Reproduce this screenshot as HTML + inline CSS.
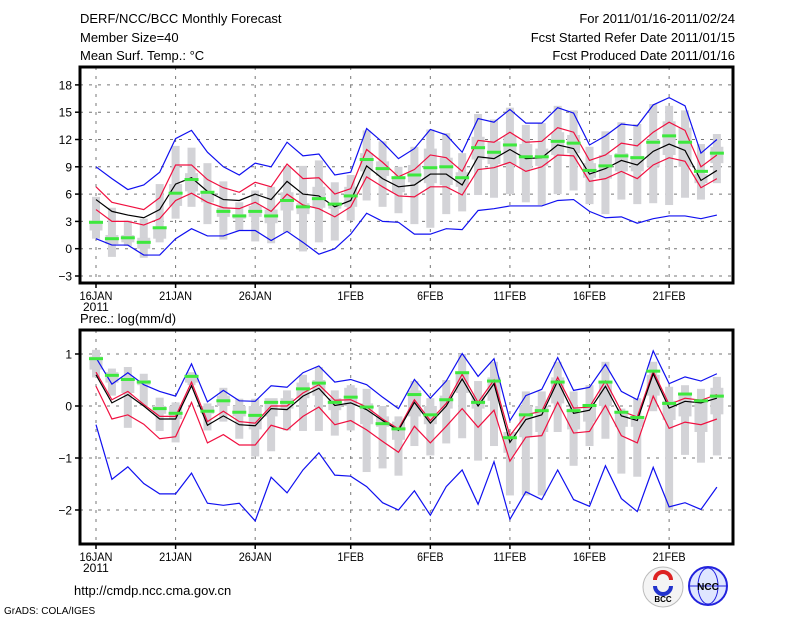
<!DOCTYPE html>
<html><head><meta charset="utf-8"><style>
html,body{margin:0;padding:0;background:#fff;}
svg{display:block;}
text{font-family:"Liberation Sans",sans-serif;fill:#000;}
</style></head><body>
<svg id="chart" width="800" height="618" viewBox="0 0 800 618" xmlns="http://www.w3.org/2000/svg">
<g font-size="13">
<text x="80" y="23">DERF/NCC/BCC Monthly Forecast</text>
<text x="80" y="42">Member Size=40</text>
<text x="80" y="60">Mean Surf. Temp.: °C</text>
<text x="735" y="23" text-anchor="end">For 2011/01/16-2011/02/24</text>
<text x="735" y="42" text-anchor="end">Fcst Started Refer Date 2011/01/15</text>
<text x="735" y="60" text-anchor="end">Fcst Produced Date 2011/01/16</text>
</g>
<text x="80" y="323" font-size="13">Prec.: log(mm/d)</text>
<text x="74" y="595" font-size="13">http://cmdp.ncc.cma.gov.cn</text>
<text x="4" y="614" font-size="10">GrADS: COLA/IGES</text>
<g>
<circle cx="663" cy="587" r="20" fill="#f4f4f4" stroke="#bbb"/>
<path d="M655 580 a8 8 0 0 1 16 0" stroke="#d22" stroke-width="4" fill="none"/>
<path d="M671 586 a8 8 0 0 1 -16 0" stroke="#23c" stroke-width="4" fill="none"/>
<text x="663" y="602" font-size="8" text-anchor="middle" font-weight="bold">BCC</text>
</g>
<g>
<circle cx="708" cy="586" r="19" fill="#dfe6ff" stroke="#22d" stroke-width="2"/>
<ellipse cx="708" cy="586" rx="10" ry="18" fill="none" stroke="#22d"/>
<line x1="690" y1="586" x2="726" y2="586" stroke="#22d"/>
<text x="708" y="590" font-size="10" text-anchor="middle" fill="#22d" font-weight="bold">NCC</text>
</g>
<g id="plots"></g>
</svg>
<script>
// ---- temperature panel data ----
const days = ["16JAN","","","","","21JAN","","","","","26JAN","","","","","","1FEB","","","","","6FEB","","","","","11FEB","","","","","16FEB","","","","","21FEB","","",""];
const tTicks = [-3,0,3,6,9,12,15,18];
const tMaxLine = [9.0,7.7,6.5,7.0,8.4,12.1,13.0,10.6,9.0,8.1,9.4,9.0,11.7,10.2,10.4,8.1,8.4,13.2,11.7,9.9,11.0,13.1,12.5,10.6,14.3,13.9,15.3,13.8,13.8,15.5,14.9,11.4,12.4,13.7,13.5,15.8,16.6,15.7,10.5,12.0];
const tUpper = [6.8,5.1,4.7,4.3,5.6,9.2,9.2,7.6,6.7,6.2,7.3,6.8,9.3,7.7,7.8,6.0,6.6,10.9,9.5,7.9,8.7,10.3,10.0,8.5,11.9,11.7,12.8,11.7,11.8,13.3,12.8,9.7,10.3,11.6,11.3,12.8,13.9,13.0,9.0,10.3];
const tMean = [5.4,4.1,3.7,3.4,4.3,7.1,7.8,6.3,5.4,5.3,6.0,5.4,7.4,6.0,5.8,4.6,5.3,9.1,7.7,6.8,7.0,8.2,8.2,7.0,10.1,9.9,10.9,9.9,10.0,11.4,11.0,8.2,8.8,9.7,9.2,10.7,11.5,10.8,7.5,8.6];
const tLower = [4.3,3.0,3.0,2.6,3.3,5.3,6.1,5.1,4.5,4.4,5.1,4.1,6.0,4.8,4.4,3.5,4.6,7.9,6.8,5.8,5.7,6.8,6.8,5.9,8.7,8.9,9.5,8.5,9.0,10.3,10.2,7.4,7.7,8.5,7.7,9.2,10.0,9.6,6.7,7.7];
const tMinLine = [1.1,0.4,0.4,-0.7,-0.7,1.1,2.2,1.4,1.4,2.0,2.0,0.9,1.9,0.7,-0.6,0.0,1.6,3.9,3.0,2.9,1.6,1.6,2.2,2.1,4.2,4.4,4.7,4.7,4.7,5.3,5.4,4.1,3.4,3.5,2.8,3.3,3.6,3.6,3.3,3.7];
const tObs = [2.9,1.1,1.2,0.7,2.3,6.1,7.6,6.2,4.1,3.6,4.1,3.6,5.3,4.6,5.5,4.9,5.8,9.8,8.8,7.8,8.1,8.9,9.0,7.8,11.1,10.6,11.4,10.1,10.1,11.8,11.6,8.6,9.1,10.2,10.0,11.7,12.4,11.7,8.5,10.5];
const tWhiskLo = [1.1,-0.9,0.3,-1.0,0.7,3.3,4.6,2.7,1.0,2.0,0.8,0.6,1.8,-0.3,0.7,0.9,3.1,5.3,4.6,3.9,2.7,2.3,3.8,4.1,5.9,5.6,6.0,5.1,4.8,6.0,6.4,4.9,3.8,5.4,4.9,5.0,4.8,5.6,5.4,7.2];
const tWhiskHi = [5.7,4.5,3.1,3.3,7.1,11.3,11.1,9.4,7.4,5.1,6.4,6.8,9.1,9.1,9.7,7.3,8.1,13.0,11.8,9.0,11.2,13.1,12.7,10.5,14.8,14.2,15.5,13.6,13.8,15.7,15.2,11.2,12.9,13.9,13.7,15.9,15.7,15.2,11.5,12.6];
const tBoxLo = [2.0,0.5,0.7,0.0,1.1,4.7,6.3,5.1,3.5,3.3,3.5,2.8,4.2,3.8,4.5,4.4,4.6,8.5,8.0,6.2,7.3,7.2,7.0,6.8,9.8,9.3,9.2,8.8,9.1,10.3,10.5,7.8,7.7,8.5,8.5,9.0,10.3,9.0,7.2,9.4];
const tBoxHi = [2.9,1.5,1.5,1.2,2.3,7.1,8.3,6.2,4.5,3.8,4.7,4.3,6.2,5.0,6.8,5.0,6.8,10.5,9.6,7.9,9.2,11.0,10.0,8.4,12.3,11.8,12.4,11.5,11.0,12.8,12.5,9.4,10.3,10.5,10.2,12.0,14.0,13.3,8.2,11.2];
// ---- precipitation panel data ----
const pTicks = [-2,-1,0,1];
const pMaxLine = [0.93,0.42,0.64,0.41,0.28,0.19,0.81,0.08,0.30,0.10,0.09,0.39,0.36,0.64,0.77,0.46,0.51,0.41,0.17,-0.05,0.51,0.15,0.48,1.01,0.57,0.91,-0.28,0.20,0.32,0.93,0.30,0.36,0.80,0.28,0.12,1.06,0.43,0.56,0.48,0.62];
const pUpper = [0.65,0.12,0.28,0.03,-0.20,-0.20,0.46,-0.30,-0.10,-0.30,-0.33,0.0,0.0,0.25,0.41,0.11,0.12,-0.02,-0.25,-0.44,0.12,-0.28,0.05,0.61,0.07,0.50,-0.57,-0.17,-0.10,0.55,-0.04,-0.02,0.48,-0.10,-0.21,0.67,0.03,0.15,0.11,0.22];
const pMean = [0.60,0.06,0.22,0.0,-0.25,-0.25,0.39,-0.37,-0.19,-0.36,-0.38,-0.05,-0.07,0.19,0.34,0.01,0.06,-0.07,-0.28,-0.47,0.07,-0.33,0.0,0.52,0.0,0.43,-0.70,-0.26,-0.17,0.48,-0.14,-0.08,0.38,-0.19,-0.28,0.62,-0.04,0.09,0.06,0.15];
const pLower = [0.38,-0.25,-0.17,-0.35,-0.63,-0.59,0.07,-0.71,-0.55,-0.75,-0.75,-0.37,-0.46,-0.20,-0.02,-0.36,-0.28,-0.46,-0.68,-0.89,-0.39,-0.71,-0.39,-0.05,-0.41,-0.08,-1.06,-0.60,-0.57,0.07,-0.52,-0.49,0.01,-0.57,-0.71,0.19,-0.43,-0.31,-0.36,-0.25];
const pMinLine = [-0.36,-1.41,-1.17,-1.49,-1.69,-1.69,-1.29,-1.87,-1.91,-1.87,-2.21,-1.37,-1.67,-1.23,-0.90,-1.33,-1.35,-1.55,-1.86,-2.0,-1.63,-2.1,-1.55,-1.23,-1.89,-1.07,-2.18,-1.65,-1.80,-1.23,-1.80,-1.93,-1.15,-1.78,-2.03,-1.18,-1.94,-1.86,-1.99,-1.56];
const pObs = [0.91,0.59,0.51,0.46,-0.05,-0.14,0.57,-0.10,0.10,-0.12,-0.18,0.07,0.07,0.33,0.44,0.07,0.17,-0.02,-0.34,-0.44,0.22,-0.17,0.12,0.64,0.07,0.48,-0.61,-0.17,-0.09,0.46,-0.09,0.01,0.46,-0.12,-0.22,0.67,0.05,0.23,0.10,0.19];
const pWhiskLo = [0.55,0.2,-0.42,0.0,-0.48,-0.7,0.4,-0.47,-0.3,-0.63,-0.97,-0.87,-0.47,-0.48,-0.48,-0.57,-0.47,-1.27,-1.2,-1.34,-0.77,-0.95,-0.72,-0.62,-1.05,-0.77,-1.72,-1.72,-1.72,-0.5,-1.15,-0.77,-0.63,-1.3,-1.36,-0.1,-2.0,-0.94,-1.09,-0.95];
const pWhiskHi = [1.08,0.72,0.75,0.62,0.16,0.07,0.65,0.05,0.35,0.14,0.14,0.1,0.3,0.6,0.75,0.3,0.4,0.33,0.0,-0.2,0.48,0.15,0.5,1.0,0.48,0.85,-0.5,0.28,0.28,0.85,0.28,0.4,0.85,-0.05,0.15,0.85,0.37,0.4,0.33,0.56];
const pBoxLo = [0.7,0.45,0.25,0.4,-0.15,-0.25,0.45,-0.15,0.0,-0.2,-0.45,-0.2,-0.05,0.15,0.2,-0.08,0.0,-0.35,-0.4,-0.65,-0.2,-0.35,-0.05,0.25,-0.05,0.1,-0.9,-0.6,-0.5,0.05,-0.45,-0.3,0.0,-0.4,-0.4,0.2,-0.27,-0.2,-0.5,-0.16];
const pBoxHi = [0.95,0.65,0.55,0.5,0.0,0.0,0.6,0.0,0.2,0.0,0.0,0.15,0.15,0.45,0.5,0.15,0.35,0.05,-0.2,-0.3,0.3,0.0,0.2,0.65,0.2,0.55,-0.5,0.0,0.0,0.55,-0.05,0.0,0.45,-0.1,-0.2,0.6,0.1,0.25,0.1,0.35];

const NS = "http://www.w3.org/2000/svg";
const root = document.getElementById('plots');
function mk(tag, attrs, parent){
  const e = document.createElementNS(NS, tag);
  for (const k in attrs) e.setAttribute(k, attrs[k]);
  (parent||root).appendChild(e);
  return e;
}
const xOf = d => 96 + d*15.92;
const yT = v => 248.7 - v*9.1;
const yB = v => 406 - v*52;

function panel(name, top, bottom, yf, ticks, series, showYear){
  const g = mk('g', {});
  
  
  // grid
  ticks.forEach(t => {
    const l = mk('line', {x1:80, x2:733, y1:yf(t), y2:yf(t), stroke:'#777', 'stroke-dasharray':'3,6', 'stroke-width':1}, g);
    
    
    const tk = mk('line', {x1:75, x2:80, y1:yf(t), y2:yf(t), stroke:'#000', 'stroke-width':1.5}, g);
    
    
    const tx = mk('text', {x:72, y:yf(t)+4.5, 'text-anchor':'end', 'font-size':12}, g);
    tx.textContent = t < 0 ? '\u2212' + Math.abs(t) : String(t);
    
    
  });
  days.forEach((lab, d) => {
    if (!lab) return;
    const l = mk('line', {x1:xOf(d), x2:xOf(d), y1:top, y2:bottom, stroke:'#777', 'stroke-dasharray':'3,6', 'stroke-width':1}, g);
    
    
    const tk = mk('line', {x1:xOf(d), x2:xOf(d), y1:bottom, y2:bottom+5, stroke:'#000', 'stroke-width':1.5}, g);
    
    
    const tx = mk('text', {x:xOf(d), y:bottom+17, 'text-anchor':'middle', 'font-size':12, 'textLength':lab.length*6.6, lengthAdjust:'spacingAndGlyphs'}, g);
    tx.textContent = lab;
    
    
  });
  const yr = mk('text', {x:xOf(0)-13, y:bottom+28, 'font-size':12}, g);
  yr.textContent = '2011';
  
  
  // whiskers and boxes
  days.forEach((_, d) => {
    const w = mk('rect', {x:xOf(d)-4, width:8, y:yf(series.wh[d]), height:Math.max(1, yf(series.wl[d])-yf(series.wh[d])), fill:'#d3d3d7'}, g);
    
    
    const b = mk('rect', {x:xOf(d)-6.5, width:13, y:yf(series.bh[d]), height:Math.max(1, yf(series.bl[d])-yf(series.bh[d])), fill:'#d3d3d7'}, g);
    
    
  });
  const line = (arr, col, nm) => {
    const p = mk('polyline', {points: arr.map((v,d)=>xOf(d)+','+yf(v)).join(' '), fill:'none', stroke:col, 'stroke-width':1.2}, g);
    
    
  };
  line(series.mx, '#1010f0', 'max-line');
  line(series.mn, '#1010f0', 'min-line');
  line(series.up, '#f01040', 'upper-line');
  line(series.lo, '#f01040', 'lower-line');
  line(series.mean, '#000', 'mean-line');
  series.obs.forEach((v, d) => {
    const r = mk('rect', {x:xOf(d)-7, width:14, y:yf(v)-1.5, height:3, fill:'#3ee83e'}, g);
    
    
  });
  const f = mk('rect', {x:80, y:top, width:653, height:bottom-top, fill:'none', stroke:'#000', 'stroke-width':3}, g);
  
  
}
panel('temperature-panel', 67, 283, yT, tTicks, {wl:tWhiskLo, wh:tWhiskHi, bl:tBoxLo, bh:tBoxHi, mx:tMaxLine, mn:tMinLine, up:tUpper, lo:tLower, mean:tMean, obs:tObs});
panel('precipitation-panel', 330, 544, yB, pTicks, {wl:pWhiskLo, wh:pWhiskHi, bl:pBoxLo, bh:pBoxHi, mx:pMaxLine, mn:pMinLine, up:pUpper, lo:pLower, mean:pMean, obs:pObs});
</script>
</body></html>
